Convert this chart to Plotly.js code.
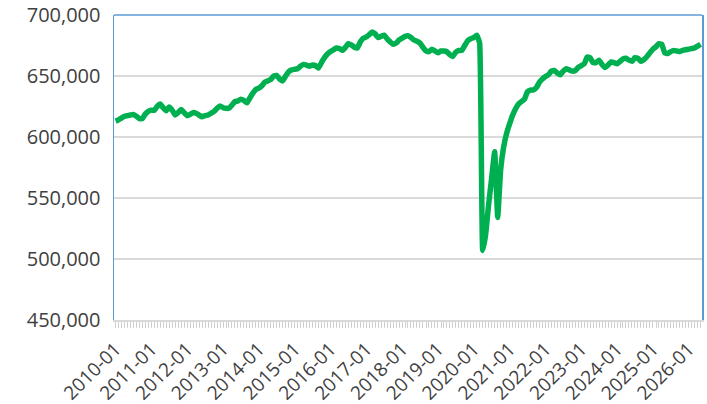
<!DOCTYPE html>
<html>
<head>
<meta charset="utf-8">
<script src="https://cdn.plot.ly/plotly-3.0.1.min.js"></script>
<style>html,body{margin:0;padding:0;background:#fff;}#chart{width:707px;height:404px;}</style>
</head>
<body>
<div id="chart"></div>
<script>
// Monthly values (2010-01 onward)
const startYear = 2010;
const values = [
  613000, 614000, 615500, 617000, 617500, 618000, 618500, 617000, 615000, 615000, 619000, 621000,
  622000, 622000, 625000, 627000, 624000, 621500, 624500, 622000, 618000, 620000, 622500, 620000,
  617500, 618500, 620000, 619500, 618000, 616500, 617500, 618000, 619500, 621000, 623500, 625500,
  624000, 623500, 623500, 626000, 629000, 629500, 631000, 630000, 628000, 632000, 636000, 639000,
  640000, 642000, 645000, 646000, 647000, 650000, 650500, 647500, 646000, 650000, 653500, 655000,
  655500, 656000, 658000, 659500, 659000, 658000, 659000, 658500, 656500, 661000, 665000, 668000,
  670000, 671500, 673000, 672500, 671000, 673500, 676500, 675500, 673500, 673000, 678000, 681000,
  682000, 684000, 686000, 684500, 681500, 682500, 683500, 680500, 678000, 676000, 677000, 679500,
  681000, 682500, 683000, 681500, 679500, 678500, 677000, 673500, 670500, 670000, 672000, 670500,
  669000, 670500, 670500, 670000, 667500, 666000, 669500, 671000, 671000, 675000, 679000, 680500,
  681500, 683500, 677000, 507000, 520000, 545000, 566000, 588000, 534000, 573000, 592000, 603000,
  611000, 618000, 623000, 627000, 629000, 631000, 637000, 638500, 638500, 640500, 645000, 647500,
  649500, 651000, 654000, 654500, 652500, 651000, 654000, 656000, 655000, 654000, 654500, 657000,
  658500, 660000, 665500, 665000, 661000, 661000, 663000, 659500, 657000, 659000, 661500, 661000,
  660000, 662000, 664000, 664500, 663000, 662000, 665000, 664500, 662000, 663500, 666000, 669000,
  672000, 674000, 676500, 676000, 669000, 668500, 670000, 671000, 670500, 670000, 671000, 671500,
  672000, 672500, 673000, 674500, 676000
];
const months = values.map((v, i) => {
  const y = startYear + Math.floor(i / 12);
  const m = (i % 12) + 1;
  return y + '-' + (m < 10 ? '0' + m : '' + m);
});
const yTickVals = [450000, 500000, 550000, 600000, 650000, 700000];

const trace = {
  x: months,
  y: values,
  type: 'scatter',
  mode: 'lines',
  line: {color: '#00B050', width: 5.5, shape: 'spline', smoothing: 0.3},
  hoverinfo: 'x+y'
};

const layout = {
  width: 707,
  height: 404,
  margin: {l: 114, r: 5, t: 15, b: 84},
  paper_bgcolor: '#ffffff',
  plot_bgcolor: '#ffffff',
  showlegend: false,
  font: {family: 'Open Sans, sans-serif', color: '#404040', size: 20},
  xaxis: {
    type: 'date',
    range: ['2009-12-16', '2026-05-16'],
    tick0: '2010-01-01',
    dtick: 'M12',
    tickformat: '%Y-%m',
    tickangle: -45,
    ticks: 'outside',
    ticklen: 6,
    tickwidth: 1,
    tickcolor: '#D0D0D0',
    tickfont: {size: 19, color: '#404040'},
    ticklabelstandoff: 3,
    showgrid: false,
    zeroline: false,
    showline: true,
    linecolor: '#D9D9D9',
    linewidth: 1.5,
    minor: {dtick: 'M1', ticks: 'outside', ticklen: 6, tickwidth: 1, tickcolor: '#D0D0D0', showgrid: false}
  },
  yaxis: {
    range: [450000, 700000],
    tickvals: yTickVals,
    tickformat: ',d',
    tickfont: {size: 20, color: '#404040'},
    ticks: '',
    ticklabelstandoff: 8,
    showgrid: true,
    gridcolor: '#D9D9D9',
    gridwidth: 2,
    zeroline: false,
    showline: true,
    linecolor: '#5B9BD5',
    linewidth: 1.5,
    mirror: true
  },
  shapes: [
    {type: 'line', xref: 'paper', yref: 'paper', x0: 0, x1: 1, y0: 1, y1: 1,
     line: {color: '#5B9BD5', width: 1.5}}
  ]
};

Plotly.newPlot('chart', [trace], layout, {displayModeBar: false, staticPlot: true});
</script>
</body>
</html>
